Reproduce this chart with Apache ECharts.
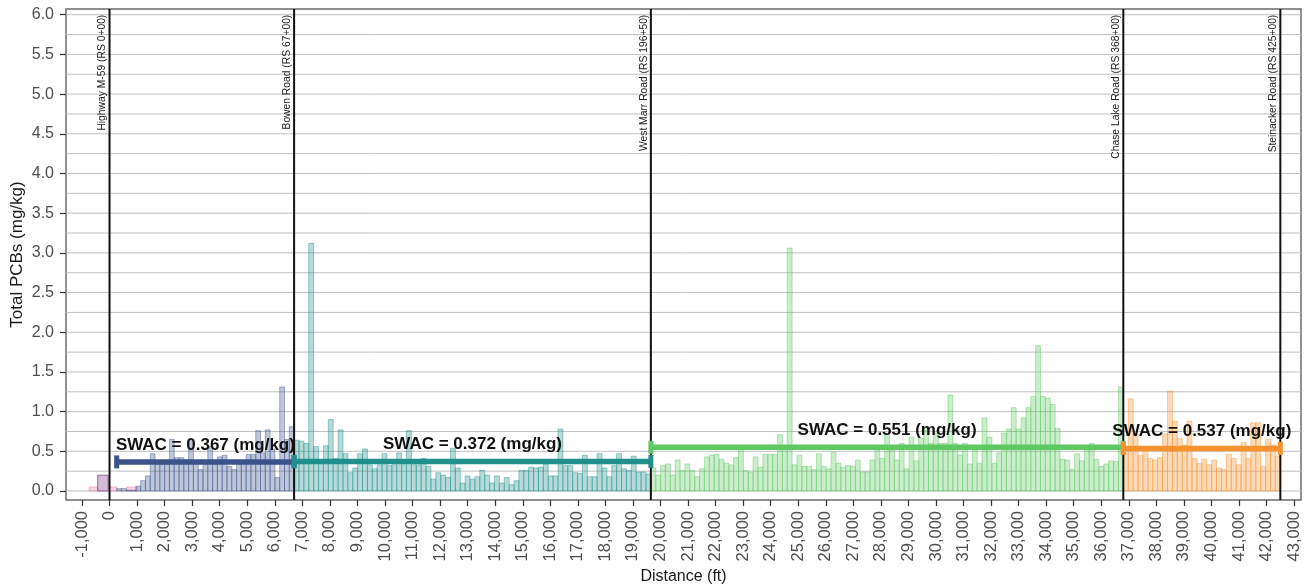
<!DOCTYPE html>
<html>
<head>
<meta charset="utf-8">
<title>Total PCBs by distance</title>
<script src="https://cdn.jsdelivr.net/npm/echarts@6/dist/echarts.min.js"></script>
<style>
  html, body { margin: 0; padding: 0; background: #fff; }
  #chart { width: 1307px; height: 587px; }
</style>
</head>
<body>
<div id="chart"></div>
<script>
// Sample bars per road segment (mg/kg), evenly spread across each segment
const segStart = [260, 6700, 19650, 36800];
const segEnd = [6700, 19650, 36800, 42500];
const segSwac = [0.367, 0.372, 0.551, 0.537];
const segColors = ['#3b528b', '#21908d', '#5ec962', '#f8922e'];

const seg1Values = [0.03, 0.03, 0.01, 0.01, 0.06, 0.13, 0.19, 0.47, 0.34, 0.34, 0.34, 0.65, 0.42, 0.42, 0.39, 0.65, 0.34, 0.27, 0.34, 0.56, 0.34, 0.43, 0.45, 0.31, 0.27, 0.34, 0.36, 0.46, 0.46, 0.76, 0.48, 0.77, 0.53, 0.17, 1.31, 0.65, 0.81];
const seg2Values = [0.64, 0.63, 0.60, 3.12, 0.56, 0.39, 0.57, 0.90, 0.41, 0.77, 0.47, 0.23, 0.29, 0.47, 0.53, 0.33, 0.28, 0.33, 0.47, 0.32, 0.33, 0.48, 0.33, 0.76, 0.33, 0.33, 0.41, 0.31, 0.15, 0.23, 0.20, 0.17, 0.54, 0.29, 0.10, 0.19, 0.15, 0.18, 0.26, 0.20, 0.10, 0.19, 0.10, 0.17, 0.08, 0.13, 0.26, 0.26, 0.30, 0.29, 0.30, 0.34, 0.19, 0.19, 0.78, 0.32, 0.32, 0.23, 0.22, 0.45, 0.18, 0.18, 0.47, 0.29, 0.18, 0.32, 0.47, 0.28, 0.26, 0.44, 0.24, 0.24, 0.21];
const seg3Values = [0.29, 0.20, 0.32, 0.34, 0.20, 0.39, 0.26, 0.34, 0.26, 0.18, 0.28, 0.43, 0.45, 0.46, 0.40, 0.35, 0.33, 0.42, 0.53, 0.26, 0.24, 0.43, 0.30, 0.46, 0.46, 0.46, 0.71, 0.57, 3.06, 0.33, 0.45, 0.31, 0.31, 0.27, 0.47, 0.31, 0.28, 0.49, 0.35, 0.30, 0.32, 0.31, 0.39, 0.24, 0.24, 0.39, 0.52, 0.41, 0.71, 0.52, 0.39, 0.60, 0.28, 0.68, 0.38, 0.66, 0.81, 0.60, 0.73, 0.60, 0.60, 1.21, 0.60, 0.45, 0.60, 0.34, 0.52, 0.35, 0.92, 0.68, 0.35, 0.48, 0.73, 0.78, 1.05, 0.78, 0.92, 1.05, 1.19, 1.83, 1.19, 1.17, 1.09, 0.79, 0.40, 0.39, 0.27, 0.47, 0.38, 0.52, 0.60, 0.40, 0.31, 0.34, 0.38, 0.37, 1.31];
const seg4Values = [0.48, 1.16, 0.72, 0.45, 0.52, 0.41, 0.39, 0.42, 0.72, 1.26, 0.88, 0.66, 0.58, 0.88, 0.41, 0.35, 0.40, 0.33, 0.39, 0.29, 0.27, 0.46, 0.41, 0.33, 0.61, 0.41, 0.86, 0.86, 0.31, 0.65, 0.58, 0.44];

// Samples outside the averaged segments
const offStart = [-740, -430, -50, 630];
const offEnd = [-430, -50, 270, 1000];
const offValues = [0.05, 0.20, 0.05, 0.05];
const offKind = [0, 1, 0, 0];
const offFill = ['rgba(240,160,200,0.45)', 'rgba(150,80,160,0.40)'];
const offStroke = ['rgba(235,140,185,0.75)', 'rgba(120,50,130,0.85)'];

// Road crossings
const roadFt = [0, 6700, 19650, 36800, 42500];
const roadNames = ['Highway M-59 (RS 0+00)', 'Bowen Road (RS 67+00)', 'West Marr Road (RS 196+50)', 'Chase Lake Road (RS 368+00)', 'Steinacker Road (RS 425+00)'];

// Axis ticks
const xTicks = [-1000, 0, 1000, 2000, 3000, 4000, 5000, 6000, 7000, 8000, 9000, 10000, 11000, 12000, 13000, 14000, 15000, 16000, 17000, 18000, 19000, 20000, 21000, 22000, 23000, 24000, 25000, 26000, 27000, 28000, 29000, 30000, 31000, 32000, 33000, 34000, 35000, 36000, 37000, 38000, 39000, 40000, 41000, 42000, 43000];
const yTicks = [0, 0.5, 1.0, 1.5, 2.0, 2.5, 3.0, 3.5, 4.0, 4.5, 5.0, 5.5, 6.0];
const gridValues = [0, 0.25, 0.5, 0.75, 1.0, 1.25, 1.5, 1.75, 2.0, 2.25, 2.5, 2.75, 3.0, 3.25, 3.5, 3.75, 4.0, 4.25, 4.5, 4.75, 5.0, 5.25, 5.5, 5.75, 6.0];

const X_MIN = -1580, X_MAX = 43250, Y_MIN = -0.113, Y_MAX = 6.072;
const FONT = 'Liberation Sans, Arial, Helvetica, sans-serif';

function hexA(hex, a) {
  const n = parseInt(hex.slice(1), 16);
  return 'rgba(' + (n >> 16) + ',' + ((n >> 8) & 255) + ',' + (n & 255) + ',' + a + ')';
}

// Bars: [start, end, value, kind]; kinds 0-3 = segments, 4-5 = off-segment samples
const segValues = [seg1Values, seg2Values, seg3Values, seg4Values];
const barData = [];
offValues.forEach((v, i) => barData.push([offStart[i], offEnd[i], v, 4 + offKind[i]]));
segValues.forEach((vals, s) => {
  const w = (segEnd[s] - segStart[s]) / vals.length;
  vals.forEach((v, i) => barData.push([segStart[s] + i * w, segStart[s] + (i + 1) * w, v, s]));
});
const barFill = segColors.map(c => hexA(c, 0.33)).concat(offFill);
const barStroke = segColors.map(c => hexA(c, 0.55)).concat(offStroke);

const chart = echarts.init(document.getElementById('chart'), null, { renderer: 'canvas' });

chart.setOption({
  animation: false,
  backgroundColor: '#ffffff',
  grid: {
    left: 66, right: 6, top: 9, bottom: 87, outerBoundsMode: 'none', containLabel: false,
    show: true, borderColor: '#6b6b6b', borderWidth: 1.5, backgroundColor: 'transparent'
  },
  xAxis: {
    type: 'value', min: X_MIN, max: X_MAX,
    splitLine: { show: false },
    axisLine: { show: false, onZero: false },
    axisTick: { show: true, customValues: xTicks, length: 6, lineStyle: { color: '#333', width: 1.2 } },
    axisLabel: {
      customValues: xTicks, rotate: 90, margin: 11, fontSize: 16.5, color: '#4d4d4d', fontFamily: FONT,
      formatter: v => Number(v).toLocaleString('en-US')
    },
    name: 'Distance (ft)', nameLocation: 'middle', nameGap: 69, nameMoveOverlap: false,
    nameTextStyle: { fontSize: 16, color: '#1a1a1a', fontFamily: FONT }
  },
  yAxis: {
    type: 'value', min: Y_MIN, max: Y_MAX,
    splitLine: { show: false },
    axisLine: { show: false, onZero: false },
    axisTick: { show: true, customValues: yTicks, length: 6, lineStyle: { color: '#333', width: 1.2 } },
    axisLabel: {
      customValues: yTicks, margin: 12, fontSize: 16, color: '#4d4d4d', fontFamily: FONT,
      formatter: v => Number(v).toFixed(1)
    },
    name: 'Total PCBs (mg/kg)', nameLocation: 'middle', nameGap: 40, nameMoveOverlap: false,
    nameTextStyle: { fontSize: 17, color: '#1a1a1a', fontFamily: FONT }
  },
  series: [
    {
      // horizontal reference lines
      type: 'custom', z: 1, silent: true,
      data: gridValues.map(v => [v]),
      renderItem: (params, api) => {
        const cs = params.coordSys;
        const y = api.coord([0, api.value(0)])[1];
        return { type: 'line', shape: { x1: cs.x, y1: y, x2: cs.x + cs.width, y2: y },
          style: { stroke: '#c0c0c0', lineWidth: 1 } };
      }
    },
    {
      type: 'custom', z: 2, silent: true,
      data: barData,
      renderItem: (params, api) => {
        const k = api.value(3);
        const a = api.coord([api.value(0), 0]);
        const b = api.coord([api.value(1), api.value(2)]);
        return { type: 'rect', shape: { x: a[0], y: b[1], width: b[0] - a[0], height: a[1] - b[1] },
          style: { fill: barFill[k], stroke: barStroke[k], lineWidth: 0.8 } };
      }
    },
    {
      // road crossings with rotated names
      type: 'custom', z: 3, silent: true,
      data: roadFt.map((f, i) => [f, i]),
      renderItem: (params, api) => {
        const cs = params.coordSys;
        const x = api.coord([api.value(0), 0])[0];
        const yTop = api.coord([api.value(0), 6])[1];
        return { type: 'group', children: [
          { type: 'line', shape: { x1: x, y1: cs.y, x2: x, y2: cs.y + cs.height },
            style: { stroke: '#111', lineWidth: 2 } },
          { type: 'text', x: x - 2, y: yTop, rotation: Math.PI / 2,
            style: { text: roadNames[api.value(1)], align: 'right', verticalAlign: 'bottom',
              fontSize: 10.3, fontFamily: FONT, fill: '#222' } }
        ] };
      }
    },
    {
      // SWAC per segment
      type: 'custom', z: 4, silent: true,
      data: segSwac.map((v, i) => [segStart[i], segEnd[i], v, i]),
      renderItem: (params, api) => {
        const i = api.value(3);
        const v = api.value(2);
        const p0 = api.coord([api.value(0), v]);
        const p1 = api.coord([api.value(1), v]);
        const c = segColors[i];
        const capW = 5, capH = 13;
        return { type: 'group', children: [
          { type: 'line', shape: { x1: p0[0], y1: p0[1], x2: p1[0], y2: p1[1] },
            style: { stroke: c, lineWidth: 5.5 } },
          { type: 'rect', shape: { x: p0[0] - capW / 2, y: p0[1] - capH / 2, width: capW, height: capH }, style: { fill: c } },
          { type: 'rect', shape: { x: p1[0] - capW / 2, y: p1[1] - capH / 2, width: capW, height: capH }, style: { fill: c } },
          { type: 'text', x: (p0[0] + p1[0]) / 2, y: p0[1] - 17,
            style: { text: 'SWAC = ' + v.toFixed(3) + ' (mg/kg)', align: 'center', verticalAlign: 'middle',
              fontSize: 17, fontWeight: 'bold', fontFamily: FONT, fill: '#111' } }
        ] };
      }
    }
  ]
});
</script>
</body>
</html>
